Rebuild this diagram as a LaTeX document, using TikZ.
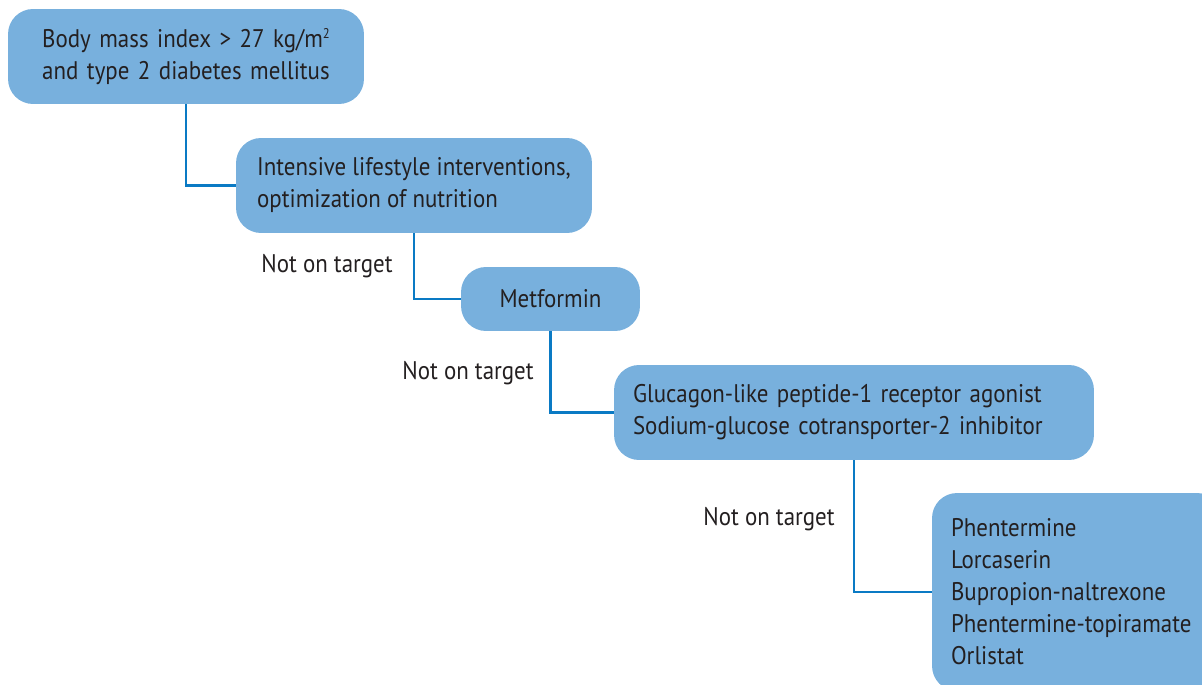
\documentclass[tikz,border=0pt]{standalone}
\usepackage{fontspec}
\setmainfont{PT Sans}[FakeStretch=0.9]
\usetikzlibrary{positioning}

\definecolor{boxblue}{RGB}{120,176,221}
\definecolor{lineblue}{RGB}{10,122,196}
\definecolor{inkgray}{RGB}{35,31,32}

\tikzset{
  stepbox/.style={rounded corners=0.5cm, fill=boxblue, text=inkgray,
    font=\fontsize{14.5}{18.2}\selectfont, inner xsep=0.38cm, inner ysep=0pt,
    align=left},
  link/.style={draw=lineblue, line width=1.3pt},
  miss/.style={text=inkgray, font=\fontsize{14.5}{18.2}\selectfont, inner sep=0pt}
}

\begin{document}
\begin{tikzpicture}[x=0.02cm, y=-0.02cm]
    % Page frame
    \useasboundingbox (0,0) rectangle (1202,685);
    \clip (0,0) rectangle (1202,685);

    % Steps
    \node[stepbox, align=center, text width=6.36cm, minimum height=1.9cm] (bmi) at (186,56.5)
        {Body mass index > 27 kg/m\raisebox{0.75ex}{\fontsize{8}{8}\selectfont 2}\\and type 2 diabetes mellitus};
    \node[stepbox, minimum width=7.12cm, minimum height=1.9cm] (life) at (414,185.5)
        {Intensive lifestyle interventions,\\optimization of nutrition};
    \node[stepbox, align=center, text width=2.82cm, minimum height=1.28cm] (metf) at (550.5,299)
        {Metformin};
    \node[stepbox, text width=8.84cm, minimum height=1.9cm] (glp) at (854,412.5)
        {Glucagon-like peptide-1 receptor agonist\\Sodium-glucose cotransporter-2 inhibitor};
    \node[stepbox, text width=5.04cm, minimum height=3.96cm] (drugs) at (1077,592)
        {Phentermine\\Lorcaserin\\Bupropion-naltrexone\\Phentermine-topiramate\\Orlistat};

    % Links
    \draw[link] (bmi.south) |- (life.west);
    \draw[link] (life.south) |- (metf.west);
    \draw[link] (metf.south) |- (glp.west);
    \draw[link] (glp.south) |- (drugs.west);

    % Not on target
    \node[miss, anchor=east] (miss1) at (393,266) {Not on target};
    \node[miss, anchor=east] (miss2) at (534,373) {Not on target};
    \node[miss, anchor=east] (miss3) at (835,519) {Not on target};

\end{tikzpicture}
\end{document}
